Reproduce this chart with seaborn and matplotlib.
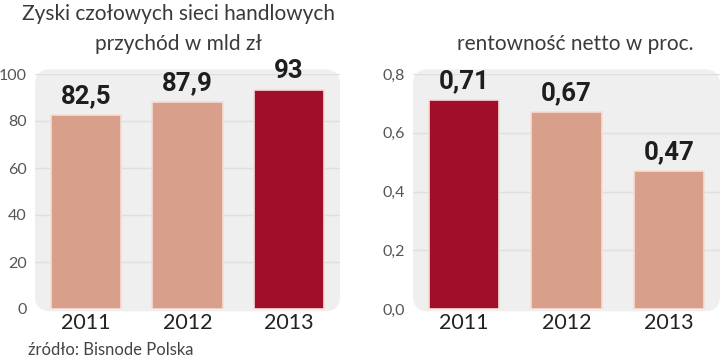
import matplotlib
matplotlib.use("Agg")
import matplotlib.pyplot as plt
import pandas as pd
import seaborn as sns
from matplotlib.patches import FancyBboxPatch

years = ["2011", "2012", "2013"]
revenue = [82.5, 87.9, 93]
margin = [0.71, 0.67, 0.47]
revenue_ticks = [0, 20, 40, 60, 80, 100]
margin_ticks = [0.0, 0.2, 0.4, 0.6, 0.8]

LIGHT = "#d8a08a"
DARK = "#a00e2a"
PANEL = "#efefef"
GRID = "#dfdfdf"

sns.set_theme(style="white")
plt.rcParams["font.family"] = ["Lato", "DejaVu Sans"]

fig = plt.figure(figsize=(7.2, 3.6), dpi=100)
ax1 = fig.add_axes([35 / 720, 1 - 309 / 360, 305 / 720, 235 / 360])
ax2 = fig.add_axes([413 / 720, 1 - 309 / 360, 307 / 720, 235 / 360])


def fmt(v, dec):
    s = f"{v:.{dec}f}" if dec else f"{v:g}"
    return s.replace(".", ",")


def draw(ax, values, ticks, ymax, colors, label_dec, tick_dec):
    df = pd.DataFrame({"year": years, "value": values})
    sns.barplot(data=df, x="year", y="value", hue="year", palette=colors,
                legend=False, width=0.69, ax=ax, zorder=3, saturation=1,
                edgecolor="#f7ddd5", linewidth=1.2)
    ax.set_ylim(0, ymax)
    ax.set_xlim(-0.5, 2.5)
    ax.set_facecolor("none")
    for s in ax.spines.values():
        s.set_visible(False)

    # rounded background panel
    w_px = ax.get_position().width * 720
    h_px = ax.get_position().height * 360
    panel = FancyBboxPatch((0, -0.01), 1, 1.03,
                           boxstyle="round,pad=0,rounding_size=0.05",
                           mutation_aspect=w_px / h_px,
                           transform=ax.transAxes, facecolor=PANEL,
                           edgecolor="none", zorder=0, clip_on=False)
    ax.add_patch(panel)
    for t in ticks[1:]:
        ax.axhline(t, color=GRID, lw=1, zorder=1)

    ax.set_yticks(ticks)
    ax.set_yticklabels([fmt(t, tick_dec) for t in ticks])
    ax.tick_params(axis="y", length=0, pad=6, labelsize=11.5,
                   labelcolor="#555555")
    ax.tick_params(axis="x", length=0, pad=3, labelsize=15.5,
                   labelcolor="#222222")
    ax.set_xlabel("")
    ax.set_ylabel("")

    for i, v in enumerate(values):
        ax.text(i, v + ymax * 0.03, fmt(v, label_dec), ha="center",
                va="bottom", fontsize=18.5, fontweight="bold", color="#1e1e1e",
                family=["Roboto", "DejaVu Sans"])


draw(ax1, revenue, revenue_ticks, 100, [LIGHT, LIGHT, DARK], None, 0)
draw(ax2, margin, margin_ticks, 0.8, [DARK, LIGHT, LIGHT], 2, 1)

title_kw = dict(ha="center", va="center", fontsize=15, color="#3a3a3a")
fig.text(178 / 720, 1 - 14 / 360, "Zyski czołowych sieci handlowych",
         **title_kw)
fig.text(178 / 720, 1 - 44 / 360, "przychód w mld zł", **title_kw)
fig.text(575 / 720, 1 - 44 / 360, "rentowność netto w proc.", **title_kw)
fig.text(28 / 720, 1 - 350 / 360, "źródło: Bisnode Polska", ha="left",
         va="center", fontsize=12, color="#444444")

fig.savefig("out.png", dpi=100)
